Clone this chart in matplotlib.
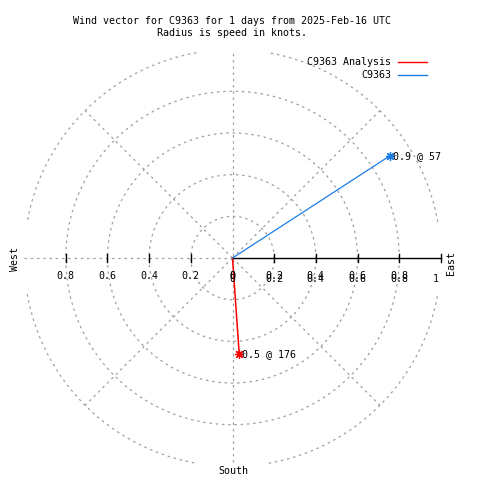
"""
Wind vector polar chart, gnuplot style.
"""
import numpy as np
import matplotlib
matplotlib.use('Agg')
import matplotlib.pyplot as plt
from matplotlib.lines import Line2D

TITLE = "Wind vector for C9363 for 1 days from 2025-Feb-16 UTC\nRadius is speed in knots."
SERIES_NAMES = ['C9363 Analysis', 'C9363']
SPEEDS = [0.46, 0.9]          # knots
DIRECTIONS = [176, 57]        # degrees, compass (clockwise from north)
COLOURS = ['#ff0000', '#1a7ee8']
RINGS = [0.2, 0.4, 0.6, 0.8, 1.0]
LEFT_TICKS = [0.8, 0.6, 0.4, 0.2, 0]
RIGHT_TICKS = [0, 0.2, 0.4, 0.6, 0.8]

GRID = '#a0a0a0'
FONT = 'DejaVu Sans Mono'
FS = 7.2

# pixel layout of the reference (480x480)
CX, CY, SCALE = 232.5, 258.0, 208.4


def px(x, y):
    """pixel position -> data coordinates"""
    return (x - CX) / SCALE, (CY - y) / SCALE


fig = plt.figure(figsize=(4.8, 4.8), dpi=100)
ax = fig.add_axes([0, 0, 1, 1])
ax.set_xlim(px(0, 0)[0], px(480, 0)[0])
ax.set_ylim(px(0, 480)[1], px(0, 0)[1])
ax.axis('off')

dash = dict(color=GRID, lw=0.9, ls=(0, (2, 3)))

# rings; outer one clipped by the plot border
theta = np.linspace(0, 2 * np.pi, 721)
for r in RINGS:
    xs, ys = r * np.cos(theta), r * np.sin(theta)
    if r >= 1.0:
        clip = (np.abs(xs) > 0.985) | (np.abs(ys) > 0.985)
        xs = np.where(clip, np.nan, xs)
        ys = np.where(clip, np.nan, ys)
    ax.plot(xs, ys, **dash)

# spokes
for ang in [45, 135, 225, 315]:
    a = np.deg2rad(ang)
    ax.plot([0, np.cos(a)], [0, np.sin(a)], **dash)
ax.plot([0, 0], [-0.98, 0.99], **dash)
ax.plot([-1.0, 0], [0, 0], **dash)

# east axis, solid with ticks
tick = 4 / SCALE
ax.plot([0, 1], [0, 0], color='black', lw=1)
for t in RIGHT_TICKS[1:] + [1.0]:
    ax.plot([t, t], [-tick, tick], color='black', lw=1)
for t in LEFT_TICKS[:-1]:
    ax.plot([-t, -t], [-tick, tick], color='black', lw=1)

ty = px(0, 276)[1]
for t in LEFT_TICKS:
    ax.text(-t, ty, f'{t:g}', ha='center', va='center', family=FONT, fontsize=FS)
for t in RIGHT_TICKS:
    for dy in (0, -2.5 / SCALE):
        ax.text(t, ty + dy, f'{t:g}', ha='center', va='center', family=FONT, fontsize=FS)
ax.text(*px(436, 279), '1', ha='center', va='center', family=FONT, fontsize=FS)

ax.text(*px(451, 263), 'East', rotation=90, ha='center', va='center', family=FONT, fontsize=FS)
ax.text(*px(15, 259), 'West', rotation=90, ha='center', va='center', family=FONT, fontsize=FS)
ax.text(*px(233, 471), 'South', ha='center', va='center', family=FONT, fontsize=FS)

# wind vectors
for name, spd, dirn, col in zip(SERIES_NAMES, SPEEDS, DIRECTIONS, COLOURS):
    a = np.deg2rad(dirn)
    x, y = spd * np.sin(a), spd * np.cos(a)
    ax.plot([0, x], [0, y], color=col, lw=1.1 if col == '#ff0000' else 0.9)
    ax.plot([x], [y], marker=(8, 2, 0), ms=6.5, color=col, mew=0.9)
    ax.text(x + 3 / SCALE, y, f'{spd:.1f} @ {dirn:.0f}', ha='left', va='center',
            family=FONT, fontsize=FS)

fig.text(0.484, 1 - 27 / 480, TITLE, ha='center', va='center', family=FONT,
         fontsize=FS, linespacing=1.35)

handles = [Line2D([], [], color=c, lw=1) for c in COLOURS]
fig.legend(handles, SERIES_NAMES, loc='upper right', bbox_to_anchor=(427 / 480, 1 - 57 / 480),
           frameon=False, markerfirst=False, handlelength=2.9, handletextpad=0.7,
           labelspacing=0.3, borderpad=0, borderaxespad=0,
           prop={'family': FONT, 'size': FS})

fig.savefig('out.png', dpi=100)
